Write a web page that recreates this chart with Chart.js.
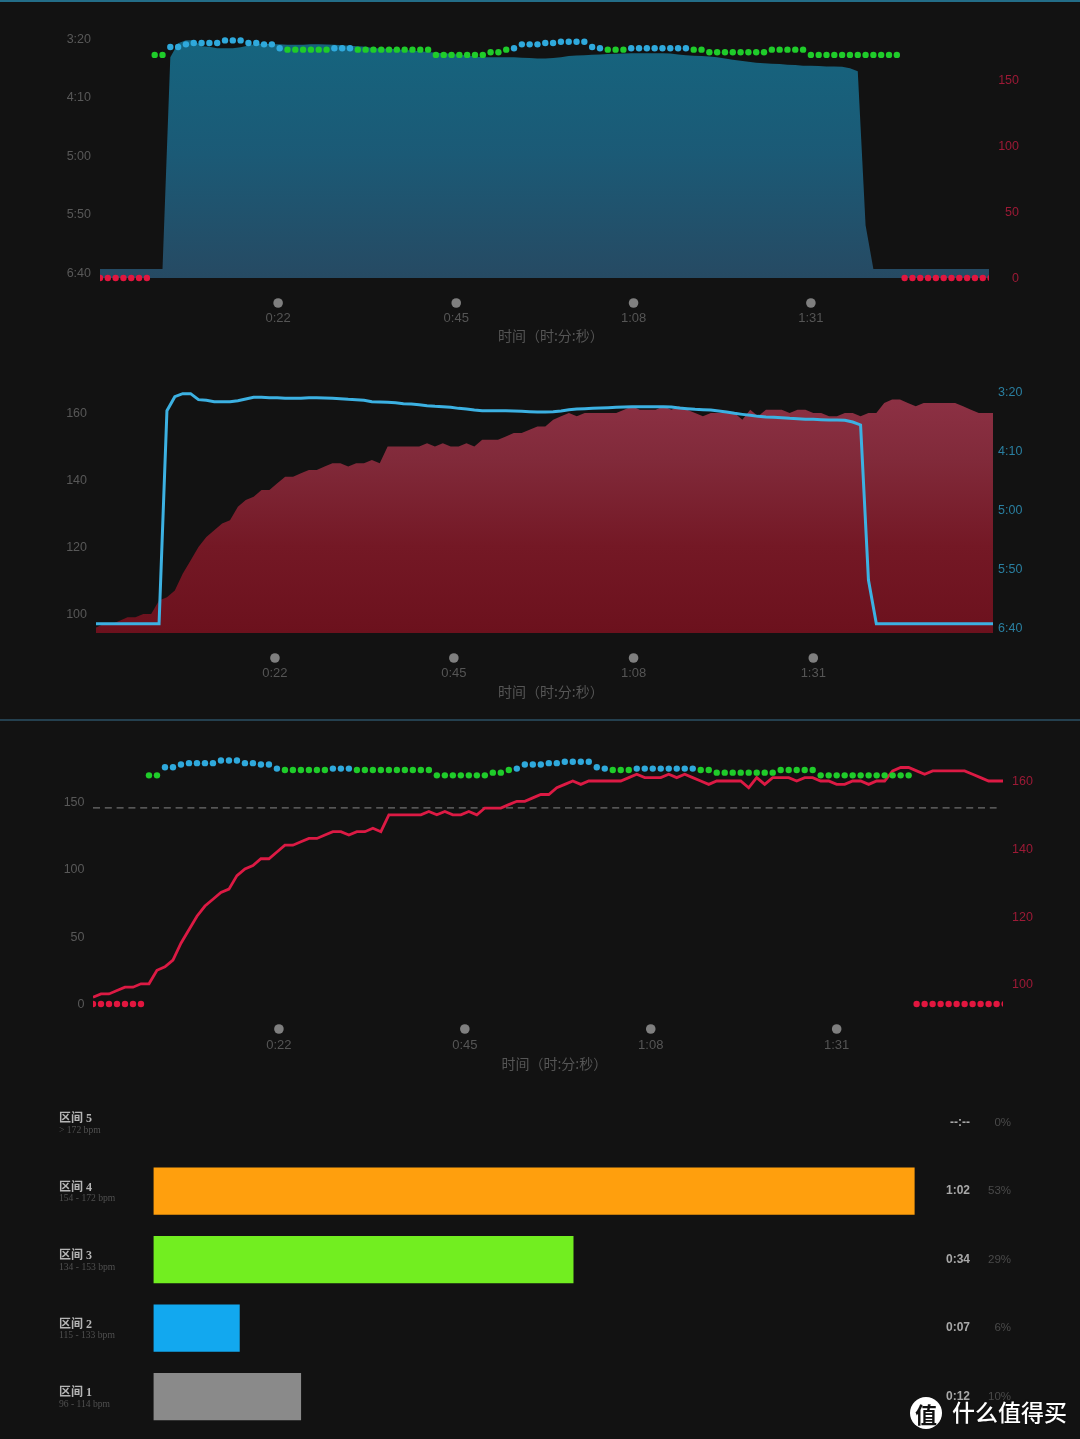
<!DOCTYPE html>
<html><head><meta charset="utf-8">
<script src="https://cdn.jsdelivr.net/npm/chart.js@4/dist/chart.umd.js"></script>
<style>
html,body{margin:0;padding:0;background:#121212;width:1080px;height:1439px;overflow:hidden}
canvas{position:absolute;left:0;display:block}
.rule{position:absolute;left:0;width:1080px;height:2px}
#logo{position:absolute;left:910px;top:1397px;width:32px;height:32px;border-radius:50%;background:#fff;color:#111;font:700 22px/32px "Noto Sans CJK SC";text-align:center}
#brand{position:absolute;left:952px;top:1394px;color:#fff;font:500 23px/34px "Noto Sans CJK SC";white-space:nowrap;text-shadow:0 0 2px rgba(0,0,0,.6)}
</style></head><body>
<div class="rule" style="top:0;background:#236d88"></div><div class="rule" style="top:719px;background:#24404f"></div>
<canvas id="c1" width="1080" height="350" style="top:0"></canvas>
<canvas id="c2" width="1080" height="370" style="top:350px"></canvas>
<canvas id="c3" width="1080" height="370" style="top:720px"></canvas>
<canvas id="c4" width="1080" height="351" style="top:1088px"></canvas>
<div id="logo">值</div><div id="brand">什么值得买</div>
<script>
// ---------- data (index = sample number) ----------
const cadence = [0,0,0,0,0,0,0,169,169,175,175,177,178,178,178,178,180,180,180,178,178,177,177,174,173,173,173,173,173,173,174,174,174,173,173,173,173,173,173,173,173,173,173,169,169,169,169,169,169,169,171,171,173,174,177,177,177,178,178,179,179,179,179,175,174,173,173,173,174,174,174,174,174,174,174,174,173,173,171,171,171,171,171,171,171,171,173,173,173,173,173,169,169,169,169,169,169,169,169,169,169,169,169,0,0,0,0,0,0,0,0,0,0,0,0];
const heartRate = [96,97,97,98,99,99,100,100,104,105,107,112,116,120,123,125,127,128,132,134,135,137,137,139,141,141,142,143,143,144,145,145,144,145,145,146,145,150,150,150,150,150,151,150,151,150,150,151,150,152,152,152,153,154,154,155,156,156,158,159,160,159,160,160,160,160,160,161,162,161,161,161,162,161,162,161,160,159,160,160,160,160,158,161,159,161,161,161,160,161,161,160,160,159,159,160,160,159,160,160,163,164,164,163,162,163,163,163,163,163,162,161,160,160,160];
const paceSeconds = [397,397,397,397,397,397,397,397,397,215.9,204,201.4,201.4,206.5,207.1,208.2,208.2,208.2,207.4,205.9,204.5,204.5,204.8,204.8,205.4,205.4,205.4,204.8,204.8,205.1,205.4,205.7,206.2,206.5,207.1,208.2,208.5,208.8,209.1,209.9,210.2,210.8,211.6,212.2,212.5,213,213.9,214.4,215.3,215.9,215.9,215.9,215.9,216.1,216.4,216.7,217,217,216.7,216.1,215,214.4,214.2,213.9,213.6,213.3,213,212.7,212.5,212.5,212.5,212.5,212.5,212.7,213.6,214.2,214.7,215,215.3,216.1,217,218.1,219,219.8,220.7,221.2,221.5,221.8,222.4,222.7,223.2,223.2,223.5,223.8,223.8,224.1,225.5,228,359.7,397,397,397,397,397,397,397,397,397,397,397,397,397,397,397,397];
const targetLine = 145;
const targetEnd = 113;
const xTickLabels = ['0:22','0:45','1:08','1:31'];
const xTicksTop = [22.8,45.6,68.3,91.0];
const xTicksMid = [22.7,45.4,68.2,91.0];
const xTicksLow = [23.25,46.5,69.75,93.0];
const paceTicks = [200,250,300,350,400];
const paceTickLabels = ['3:20','4:10','5:00','5:50','6:40'];
const cadenceTicks = [0,50,100,150];
const hrTicks = [100,120,140,160];
const xTitle = '    时间（时:分:秒）';
const zoneNames = ['区间 5','区间 4','区间 3','区间 2','区间 1'];
const zoneRanges = ['> 172 bpm','154 - 172 bpm','134 - 153 bpm','115 - 133 bpm','96 - 114 bpm'];
const zoneSeconds = [0,62,34.2,7,12];
const zoneTimes = ['--:--','1:02','0:34','0:07','0:12'];
const zonePercents = ['0%','53%','29%','6%','10%'];
const zoneColors = ['rgba(0,0,0,0)','#ff9f0d','#72ee20','#12a8ef','#8a8a8a'];

// ---------- helpers ----------
const FONT = '"Liberation Sans","Noto Sans CJK SC",sans-serif';
const CJK = '"Noto Sans CJK SC","Liberation Sans",sans-serif';
const pts = arr => arr.map((y,x)=>({x,y}));
const dotColor = v => v===0 ? '#e2163f' : (v>=174 ? '#2fa9dc' : '#1fcc2a');
const tickDots = {id:'tickDots',afterDraw(chart){
  const s=chart.scales.x,c=chart.ctx;c.save();c.fillStyle='#7f7f7f';
  s.ticks.forEach(t=>{c.beginPath();c.arc(s.getPixelForValue(t.value),s.top+25,4.8,0,Math.PI*2);c.fill();});
  c.restore();}};
const gradient = stops => ctx => {
  const a=ctx.chart.chartArea; if(!a) return stops[0][1];
  const g=ctx.chart.ctx.createLinearGradient(0,a.top,0,a.bottom);
  stops.forEach(s=>g.addColorStop(s[0],s[1])); return g;};
const xAxis = (ticks,height,labelPad,titleBottom)=>({
  type:'linear',min:0,max:113.8,
  afterBuildTicks:s=>{s.ticks=ticks.map(value=>({value}));},
  afterFit:s=>{s.height=height;},
  grid:{display:false,drawTicks:false},border:{display:false},
  ticks:{autoSkip:false,maxRotation:0,padding:labelPad,color:'#555555',font:{family:FONT,size:13},
    callback:(v,i)=>xTickLabels[i]},
  title:{display:true,text:xTitle,color:'#555555',font:{family:CJK,size:14},padding:{top:0,bottom:titleBottom}}
});
// two-line label with a tiny line height nudges the text 1px down to sit where the reference has it
const yAxis = (pos,min,max,ticks,labels,width,color,pad,cross,reverse)=>({
  type:'linear',position:pos,min,max,reverse:!!reverse,
  afterBuildTicks:s=>{s.ticks=ticks.map(value=>({value}));},
  afterFit:s=>{s.width=width;},
  grid:{display:false,drawTicks:false},border:{display:false},
  ticks:{padding:pad,color,crossAlign:cross,font:{family:FONT,size:12.5,lineHeight:'2px'},autoSkip:false,
    callback:(v,i)=>['',labels?labels[i]:String(v)]}
});
const cadenceDots = yAxisID=>({
  data:pts(cadence),yAxisID,xAxisID:'x',showLine:false,
  pointRadius:3.2,pointBorderWidth:0,
  pointBackgroundColor:ctx=>dotColor(ctx.parsed?ctx.parsed.y:0),
  clip:{left:0,right:0,top:false,bottom:false}
});
const base = {responsive:false,animation:false,devicePixelRatio:1,parsing:true,
  plugins:{legend:{display:false},tooltip:{enabled:false}}};

// ---------- chart 1: pace area + cadence dots ----------
new Chart(document.getElementById('c1'),{type:'line',plugins:[tickDots],
 data:{datasets:[
  cadenceDots('yCad'),
  {data:pts(paceSeconds),yAxisID:'yPace',xAxisID:'x',pointRadius:0,borderWidth:0,fill:'start',
   backgroundColor:gradient([[0,'#15657f'],[0.5,'#1b5a76'],[1,'#264a63']])}
 ]},
 options:{...base,layout:{padding:{top:30,right:61}},scales:{
  x:xAxis(xTicksTop,72,33,5.6),
  yPace:yAxis('left',192.7,404.7,paceTicks,paceTickLabels,100,'#585858',9,'near',true),
  yCad:yAxis('right',0,187.88,cadenceTicks,null,30,'#9c1a36',0,'far')
 }}});

// ---------- chart 2: heart-rate area + pace line ----------
new Chart(document.getElementById('c2'),{type:'line',plugins:[tickDots],
 data:{datasets:[
  {data:pts(paceSeconds),yAxisID:'yPace',xAxisID:'x',pointRadius:0,borderWidth:3,borderColor:'#3cb1e2',fill:false},
  {data:pts(heartRate),yAxisID:'yHr',xAxisID:'x',pointRadius:0,borderWidth:0,fill:'start',
   backgroundColor:gradient([[0,'#8f3246'],[0.3,'#812a3a'],[0.65,'#741825'],[1,'#6c111d']])}
 ]},
 options:{...base,layout:{padding:{top:35}},scales:{
  x:xAxis(xTicksMid,87,33,19.6),
  yHr:yAxis('left',94.33,168.36,hrTicks,null,96,'#585858',9,'near'),
  yPace:yAxis('right',194.05,404.76,paceTicks,paceTickLabels,87,'#2a7fa0',5,'near',true)
 }}});

// ---------- chart 3: cadence dots + heart-rate line ----------
new Chart(document.getElementById('c3'),{type:'line',plugins:[tickDots],
 data:{datasets:[
  cadenceDots('yCad'),
  {data:pts(heartRate),yAxisID:'yHr',xAxisID:'x',pointRadius:0,borderWidth:2.8,borderColor:'#dc1a44',fill:false},
  {data:[{x:0,y:targetLine},{x:targetEnd,y:targetLine}],yAxisID:'yCad',xAxisID:'x',pointRadius:0,borderWidth:1.2,borderColor:'#6e6e6e',borderDash:[7,4.8],fill:false}
 ]},
 options:{...base,layout:{padding:{top:20}},scales:{
  x:xAxis(xTicksLow,86,34,17.6),
  yCad:yAxis('left',0,195.12,cadenceTicks,null,93,'#585858',8.5,'near'),
  yHr:yAxis('right',94.02,172.13,hrTicks,null,77,'#9c1a36',9,'near')
 }}});

// ---------- chart 4: time in zones ----------
const catAxis = (pos,width,weight,cross,pad,font,color,labelFn,mirror)=>({
  type:'category',position:pos,offset:true,weight,
  afterFit:s=>{s.width=width;s.paddingTop=0;s.paddingBottom=0;},
  grid:{display:false,drawTicks:false},border:{display:false},
  ticks:{crossAlign:cross,padding:pad,font,color,autoSkip:false,mirror:!!mirror,callback:(v,i)=>labelFn(i)}
});
new Chart(document.getElementById('c4'),{type:'bar',
 data:{labels:zoneNames,datasets:[{data:zoneSeconds,backgroundColor:zoneColors,barThickness:46.6,xAxisID:'x',yAxisID:'y',borderWidth:0}]},
 options:{...base,indexAxis:'y',layout:{padding:{top:0.2,bottom:8,left:59,right:69}},scales:{
  x:{type:'linear',display:false,min:0,max:63.28},
  y:catAxis('left',0,2,'near',0,{family:'"Liberation Serif","Noto Sans CJK SC",serif',size:12,weight:'bold',lineHeight:'7px'},'#b5b5b5',i=>[zoneNames[i],''],true),
  yBpm:catAxis('left',94.5,1,'far',0,{family:'"Liberation Serif",serif',size:9.6,lineHeight:'15px'},'#505050',i=>['',zoneRanges[i]]),
  yTime:catAxis('right',40,0,'far',0,{family:FONT,size:12,weight:'bold'},'#a8a8a8',i=>zoneTimes[i]),
  yPct:catAxis('right',41,1,'far',0,{family:FONT,size:11.5},'#4a4a4a',i=>zonePercents[i])
 }}});
</script>
</body></html>
